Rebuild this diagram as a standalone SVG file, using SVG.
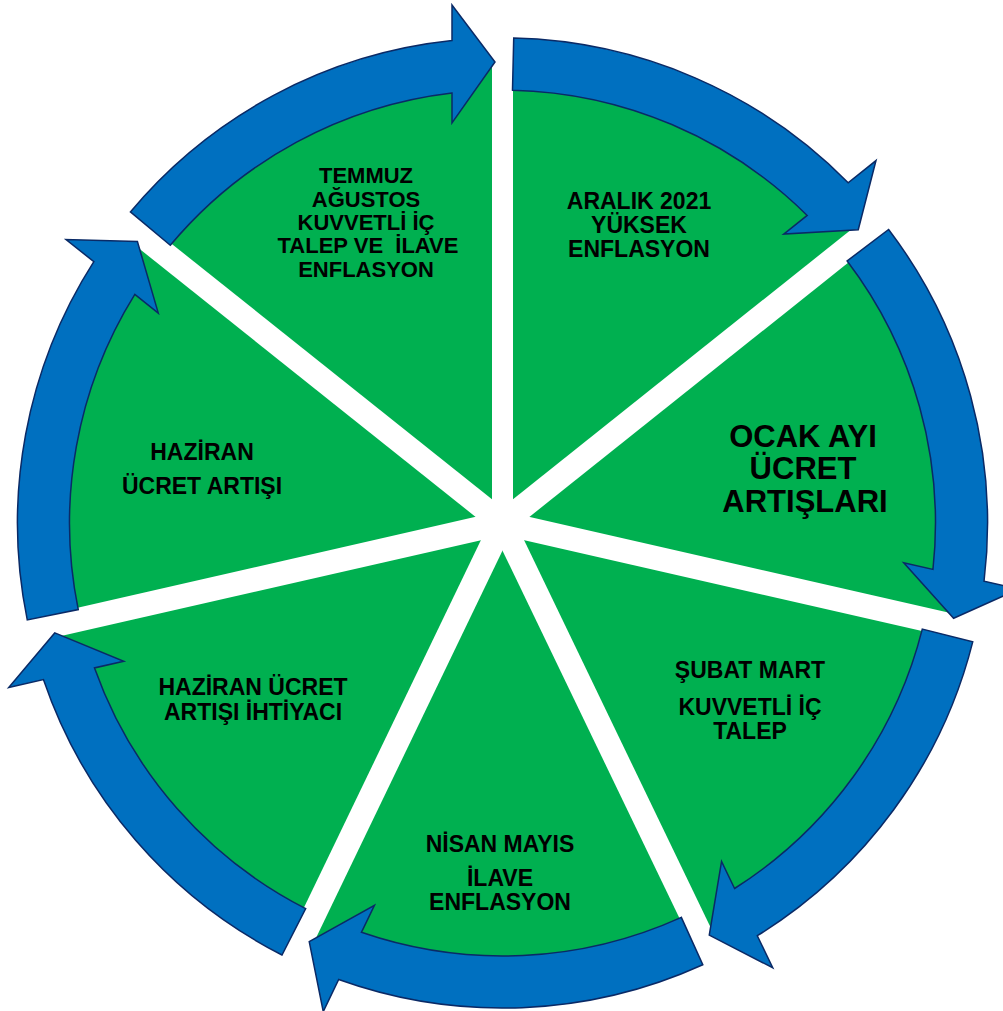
<svg xmlns="http://www.w3.org/2000/svg" xmlns:xlink="http://www.w3.org/1999/xlink" width="1003" height="1011" viewBox="0 0 1003 1011">
<style>
.seg{fill:#00B050;}
.gap{stroke:#FFFFFF;stroke-width:24;}
.arr{fill:#0070C0;stroke:#0A2A66;stroke-width:1.5;stroke-linejoin:miter;}
.t{font-family:"Liberation Sans",Arial,sans-serif;font-weight:bold;font-size:23px;fill:#000;text-anchor:middle;}
.big{font-size:31px;}
.tight{font-size:22px;}
</style>
<defs>
<path id="wedge" d="M502.5,523 L502.5,63 A460,460 0 0 1 862.1,236.2 Z"/>
<path id="arrow" d="M130.4,211.9 A485,485 0 0 1 452,40.6 L452,5 L495,62 L452,123 L452,93 A433,433 0 0 0 170.3,245.3 Z"/>
</defs>
<rect width="1003" height="1011" fill="#FFFFFF"/>
<g id="node-aralik">
<use xlink:href="#wedge" class="seg"/>
<text class="t"><tspan x="639" y="208.5">ARALIK 2021</tspan><tspan x="639" y="233">YÜKSEK</tspan><tspan x="639" y="257">ENFLASYON</tspan></text>
</g>
<g id="node-ocak">
<use xlink:href="#wedge" class="seg" transform="rotate(51.4286 502.5 523)"/>
<text class="t big"><tspan x="803" y="446.7">OCAK AYI</tspan><tspan x="803" y="478.5">ÜCRET</tspan><tspan x="805" y="511.5">ARTIŞLARI</tspan></text>
</g>
<g id="node-subat">
<use xlink:href="#wedge" class="seg" transform="rotate(102.8571 502.5 523)"/>
<text class="t"><tspan x="750" y="678">ŞUBAT MART</tspan><tspan x="750" y="715">KUVVETLİ İÇ</tspan><tspan x="750" y="739">TALEP</tspan></text>
</g>
<g id="node-nisan">
<use xlink:href="#wedge" class="seg" transform="rotate(154.2857 502.5 523)"/>
<text class="t"><tspan x="500" y="852">NİSAN MAYIS</tspan><tspan x="500" y="886">İLAVE</tspan><tspan x="500" y="910">ENFLASYON</tspan></text>
</g>
<g id="node-haziran-ihtiyac">
<use xlink:href="#wedge" class="seg" transform="rotate(205.7143 502.5 523)"/>
<text class="t"><tspan x="253" y="695">HAZİRAN ÜCRET</tspan><tspan x="253" y="719.5">ARTIŞI İHTİYACI</tspan></text>
</g>
<g id="node-haziran">
<use xlink:href="#wedge" class="seg" transform="rotate(257.1429 502.5 523)"/>
<text class="t"><tspan x="202" y="459.5">HAZİRAN</tspan><tspan x="202" y="493.5">ÜCRET ARTIŞI</tspan></text>
</g>
<g id="node-temmuz">
<use xlink:href="#wedge" class="seg" transform="rotate(308.5714 502.5 523)"/>
<text class="t tight" xml:space="preserve"><tspan x="366" y="183">TEMMUZ</tspan><tspan x="366" y="206.5">AĞUSTOS</tspan><tspan x="366" y="229.5">KUVVETLİ İÇ</tspan><tspan x="368" y="253">TALEP VE  İLAVE</tspan><tspan x="366" y="276.5">ENFLASYON</tspan></text>
</g>
<g id="gaps">
<line class="gap" style="stroke-width:21" x1="502.5" y1="523" x2="502.5" y2="36"/>
<line class="gap" x1="502.5" y1="523" x2="502.5" y2="36" transform="rotate(51.4286 502.5 523)"/>
<line class="gap" x1="502.5" y1="523" x2="502.5" y2="36" transform="rotate(102.8571 502.5 523)"/>
<line class="gap" x1="502.5" y1="523" x2="502.5" y2="36" transform="rotate(154.2857 502.5 523)"/>
<line class="gap" x1="502.5" y1="523" x2="502.5" y2="36" transform="rotate(205.7143 502.5 523)"/>
<line class="gap" x1="502.5" y1="523" x2="502.5" y2="36" transform="rotate(257.1429 502.5 523)"/>
<line class="gap" x1="502.5" y1="523" x2="502.5" y2="36" transform="rotate(308.5714 502.5 523)"/>
</g>
<g id="connectors">
<use xlink:href="#arrow" class="arr"/>
<use xlink:href="#arrow" class="arr" transform="rotate(51.4286 502.5 523)"/>
<use xlink:href="#arrow" class="arr" transform="rotate(102.8571 502.5 523)"/>
<use xlink:href="#arrow" class="arr" transform="rotate(154.2857 502.5 523)"/>
<use xlink:href="#arrow" class="arr" transform="rotate(205.7143 502.5 523)"/>
<use xlink:href="#arrow" class="arr" transform="rotate(257.1429 502.5 523)"/>
<use xlink:href="#arrow" class="arr" transform="rotate(308.5714 502.5 523)"/>
</g>
</svg>
